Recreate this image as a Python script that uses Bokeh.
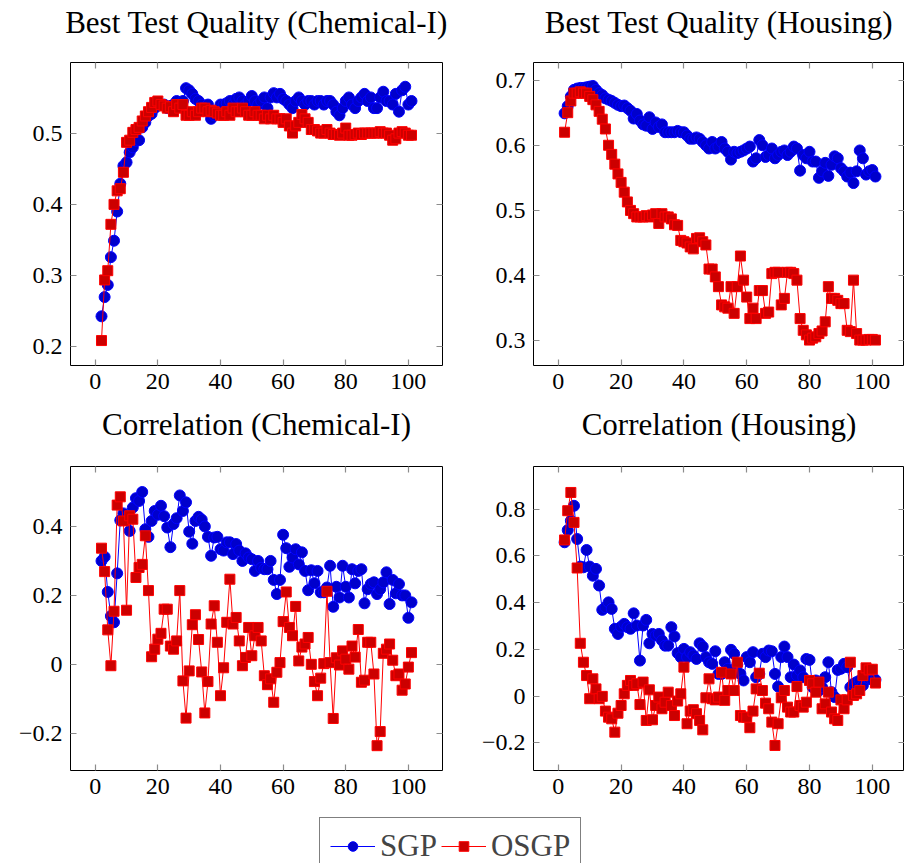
from bokeh.plotting import figure
from bokeh.layouts import column, row
from bokeh.models import (Range1d, FixedTicker, LinearAxis, CustomJSTickFormatter,
                          Legend, LegendItem, Label)
from bokeh.embed import file_html
from bokeh.resources import INLINE

# ---------------- data ----------------
iterations = list(range(2, 102))

sgp_quality_chem = [
    0.243, 0.270, 0.287, 0.326, 0.349, 0.390, 0.429, 0.454, 0.459, 0.473,
    0.480, 0.489, 0.490, 0.508, 0.515, 0.524, 0.527, 0.535, 0.540, 0.540,
    0.540, 0.535, 0.538, 0.540, 0.545, 0.540, 0.545, 0.563, 0.560, 0.555,
    0.548, 0.545, 0.540, 0.535, 0.540, 0.520, 0.525, 0.530, 0.540, 0.540,
    0.542, 0.545, 0.540, 0.548, 0.550, 0.545, 0.540, 0.545, 0.552, 0.545,
    0.540, 0.545, 0.550, 0.535, 0.550, 0.556, 0.550, 0.555, 0.548, 0.545,
    0.540, 0.535, 0.545, 0.550, 0.545, 0.540, 0.545, 0.545, 0.540, 0.545,
    0.545, 0.540, 0.545, 0.545, 0.540, 0.530, 0.525, 0.535, 0.545, 0.550,
    0.540, 0.535, 0.545, 0.550, 0.555, 0.545, 0.550, 0.535, 0.535, 0.550,
    0.558, 0.545, 0.545, 0.540, 0.555, 0.530, 0.560, 0.565, 0.540, 0.545]
osgp_quality_chem = [
    0.209, 0.294, 0.307, 0.372, 0.400, 0.419, 0.422, 0.445, 0.487, 0.490,
    0.501, 0.505, 0.508, 0.517, 0.524, 0.530, 0.536, 0.543, 0.545, 0.540,
    0.538, 0.535, 0.537, 0.530, 0.540, 0.535, 0.540, 0.525, 0.525, 0.530,
    0.525, 0.530, 0.535, 0.535, 0.530, 0.532, 0.530, 0.528, 0.525, 0.525,
    0.530, 0.525, 0.535, 0.530, 0.530, 0.535, 0.530, 0.525, 0.525, 0.530,
    0.525, 0.525, 0.520, 0.525, 0.520, 0.525, 0.520, 0.520, 0.515, 0.520,
    0.510, 0.500, 0.510, 0.515, 0.526, 0.520, 0.515, 0.505, 0.505, 0.503,
    0.500, 0.500, 0.505, 0.500, 0.498, 0.498, 0.497, 0.500, 0.507, 0.497,
    0.497, 0.498, 0.500, 0.498, 0.500, 0.500, 0.500, 0.500, 0.500, 0.502,
    0.500, 0.500, 0.497, 0.490, 0.492, 0.500, 0.502, 0.500, 0.497, 0.497]

sgp_quality_housing = [
    0.649, 0.660, 0.675, 0.685, 0.687, 0.688, 0.688, 0.689, 0.690, 0.691,
    0.685, 0.680, 0.677, 0.672, 0.670, 0.668, 0.665, 0.662, 0.660, 0.661,
    0.657, 0.653, 0.641, 0.648, 0.638, 0.632, 0.630, 0.643, 0.625, 0.635,
    0.628, 0.632, 0.620, 0.620, 0.620, 0.620, 0.622, 0.620, 0.620, 0.615,
    0.610, 0.610, 0.612, 0.610, 0.605, 0.600, 0.595, 0.605, 0.595, 0.598,
    0.605, 0.595, 0.590, 0.578, 0.590, 0.588, 0.590, 0.592, 0.595, 0.598,
    0.575, 0.580, 0.608, 0.600, 0.582, 0.585, 0.595, 0.580, 0.585, 0.590,
    0.592, 0.585, 0.590, 0.598, 0.595, 0.561, 0.585, 0.580, 0.590, 0.575,
    0.575, 0.550, 0.560, 0.573, 0.553, 0.570, 0.583, 0.580, 0.565, 0.560,
    0.552, 0.558, 0.542, 0.560, 0.592, 0.580, 0.555, 0.560, 0.562, 0.552]
osgp_quality_housing = [
    0.620, 0.650, 0.668, 0.680, 0.680, 0.682, 0.680, 0.680, 0.675, 0.670,
    0.662, 0.652, 0.640, 0.625, 0.600, 0.586, 0.571, 0.556, 0.543, 0.528,
    0.513, 0.500, 0.495, 0.490, 0.490, 0.490, 0.492, 0.490, 0.493, 0.495,
    0.480, 0.495, 0.490, 0.490, 0.487, 0.478, 0.477, 0.454, 0.452, 0.450,
    0.444, 0.441, 0.457, 0.458, 0.452, 0.447, 0.410, 0.410, 0.398, 0.383,
    0.355, 0.352, 0.350, 0.383, 0.342, 0.383, 0.430, 0.393, 0.367, 0.334,
    0.350, 0.334, 0.377, 0.377, 0.342, 0.344, 0.403, 0.405, 0.405, 0.355,
    0.365, 0.405, 0.405, 0.403, 0.393, 0.334, 0.316, 0.309, 0.301, 0.304,
    0.306, 0.311, 0.315, 0.329, 0.383, 0.365, 0.365, 0.362, 0.357, 0.357,
    0.316, 0.314, 0.393, 0.311, 0.301, 0.301, 0.301, 0.302, 0.302, 0.301]

sgp_corr_chem = [
    0.300, 0.312, 0.210, 0.140, 0.122, 0.264, 0.418, 0.438, 0.426, 0.387,
    0.455, 0.482, 0.474, 0.500, 0.392, 0.370, 0.416, 0.445, 0.434, 0.460,
    0.430, 0.397, 0.340, 0.407, 0.424, 0.490, 0.445, 0.470, 0.385, 0.350,
    0.416, 0.428, 0.420, 0.400, 0.370, 0.315, 0.368, 0.370, 0.334, 0.330,
    0.354, 0.354, 0.320, 0.349, 0.330, 0.300, 0.322, 0.310, 0.305, 0.271,
    0.300, 0.280, 0.276, 0.276, 0.300, 0.245, 0.204, 0.245, 0.376, 0.337,
    0.283, 0.310, 0.334, 0.290, 0.325, 0.271, 0.215, 0.273, 0.235, 0.271,
    0.209, 0.209, 0.223, 0.286, 0.167, 0.225, 0.194, 0.286, 0.225, 0.194,
    0.276, 0.235, 0.271, 0.276, 0.177, 0.218, 0.233, 0.238, 0.204, 0.218,
    0.238, 0.267, 0.175, 0.245, 0.206, 0.233, 0.200, 0.200, 0.135, 0.180]
osgp_corr_chem = [
    0.337, 0.269, 0.100, -0.004, 0.154, 0.462, 0.486, 0.416, 0.157, 0.431,
    0.421, 0.252, 0.281, 0.290, 0.373, 0.214, 0.022, 0.044, 0.073, 0.090,
    0.160, 0.160, 0.053, 0.044, 0.068, 0.214, -0.048, -0.156, -0.019, 0.115,
    0.144, 0.072, -0.022, -0.141, -0.050, 0.117, 0.170, 0.064, -0.091, -0.010,
    0.122, 0.247, 0.117, 0.136, 0.068, -0.004, 0.020, 0.107, 0.025, 0.083,
    0.107, 0.068, -0.033, -0.059, -0.042, -0.110, -0.023, 0.005, 0.124, 0.210,
    0.107, 0.083, 0.168, 0.010, 0.050, 0.059, 0.078, 0.000, -0.050, -0.091,
    -0.040, 0.002, 0.212, 0.005, -0.157, 0.019, -0.002, 0.039, 0.015, -0.014,
    0.053, 0.021, 0.101, -0.052, -0.046, 0.064, 0.064, -0.028, -0.236, -0.195,
    0.032, 0.044, 0.059, 0.012, -0.033, -0.028, -0.075, -0.057, -0.008, 0.034]

sgp_corr_housing = [
    0.658, 0.710, 0.750, 0.814, 0.672, 0.554, 0.551, 0.625, 0.554, 0.515,
    0.544, 0.473, 0.369, 0.380, 0.401, 0.373, 0.288, 0.266, 0.297, 0.309,
    0.295, 0.288, 0.354, 0.302, 0.152, 0.302, 0.326, 0.226, 0.266, 0.259,
    0.266, 0.238, 0.216, 0.216, 0.295, 0.255, 0.184, 0.167, 0.202, 0.167,
    0.188, 0.174, 0.159, 0.226, 0.212, 0.167, 0.145, 0.138, 0.192, 0.095,
    0.095, 0.145, 0.117, 0.198, 0.181, 0.135, 0.095, 0.067, 0.167, 0.145,
    0.188, 0.081, 0.095, 0.181, 0.167, 0.195, 0.192, 0.095, 0.041, 0.167,
    0.212, 0.167, 0.081, 0.135, 0.088, 0.110, 0.081, 0.159, 0.155, 0.038,
    0.067, 0.024, 0.038, 0.081, 0.145, 0.017, -0.004, 0.112, 0.117, 0.138,
    0.124, 0.038, 0.053, 0.060, 0.067, 0.046, 0.081, 0.074, 0.070, 0.070]
osgp_corr_housing = [
    0.668, 0.793, 0.871, 0.743, 0.548, 0.226, 0.145, 0.088, -0.011, 0.074,
    0.031, -0.011, -0.001, -0.064, -0.090, -0.097, -0.154, -0.073, -0.040, 0.010,
    0.046, 0.067, 0.046, 0.053, -0.036, 0.060, -0.104, 0.027, -0.101, -0.040,
    -0.004, -0.054, -0.026, 0.017, -0.040, -0.083, -0.021, 0.010, 0.124, -0.118,
    -0.064, -0.058, -0.075, -0.104, -0.144, -0.007, 0.074, -0.011, -0.016, -0.004,
    0.102, -0.018, 0.024, 0.095, 0.024, 0.145, -0.083, -0.090, -0.090, -0.135,
    -0.064, 0.031, 0.098, 0.024, -0.030, -0.054, -0.111, -0.211, -0.118, -0.007,
    0.024, -0.047, -0.068, -0.068, 0.041, -0.040, -0.047, -0.026, 0.067, 0.053,
    0.017, 0.060, -0.054, -0.033, 0.017, -0.068, -0.097, -0.104, -0.016, -0.054,
    -0.016, 0.145, 0.003, 0.010, 0.024, 0.088, 0.121, 0.112, 0.115, 0.056]

x_ticks = [0, 20, 40, 60, 80, 100]
series_names = ["SGP", "OSGP"]
titles = ["Best Test Quality (Chemical-I)", "Best Test Quality (Housing)",
          "Correlation (Chemical-I)", "Correlation (Housing)"]

# ---------------- style ----------------
FONT = "Liberation Serif"
TITLE_SIZE = "31px"
TICK_SIZE = "24px"
TICK_COLOR = "#8c8c8c"
BLUE_LINE, BLUE_FILL = "#0000ff", "#0000cc"
RED_LINE, RED_FILL = "#ff0000", "#cc0000"

y_fmt = CustomJSTickFormatter(code="""
    if (Math.abs(tick) < 1e-9) return "0";
    const s = Math.abs(tick).toFixed(1);
    return tick < 0 ? "\u2212" + s : s;
""")
x_fmt = CustomJSTickFormatter(code="return tick.toFixed(0);")


def style_axis(ax, ticks, fmt, show_labels=True):
    ax.ticker = FixedTicker(ticks=ticks)
    ax.minor_tick_line_color = None
    ax.axis_line_color = None
    ax.major_tick_in = 6
    ax.major_tick_out = 0
    ax.major_tick_line_color = TICK_COLOR
    ax.major_tick_line_width = 1.2
    if show_labels:
        ax.formatter = fmt
        ax.major_label_text_font = FONT
        ax.major_label_text_font_size = TICK_SIZE
        ax.major_label_text_color = "black"
        ax.major_label_standoff = 8
    else:
        ax.major_label_text_font_size = "0px"
        ax.major_label_standoff = 0
        ax.major_label_text_alpha = 0


def title_strip(text, width, height, center_x):
    t = figure(width=width, height=height, x_range=Range1d(0, 1), y_range=Range1d(0, 1),
               output_backend="svg", toolbar_location=None, min_border=0,
               x_axis_location=None, y_axis_location=None)
    t.outline_line_color = None
    t.grid.visible = False
    t.add_layout(Label(x=center_x, y=height / 2, x_units="screen", y_units="screen",
                       text=text, text_align="center", text_baseline="middle",
                       text_font=FONT, text_font_size=TITLE_SIZE, text_color="black"))
    return t


def panel(sgp, osgp, xr, yr, yticks, fw, fh, mbl, mbr, mbt, mbb):
    p = figure(frame_width=fw, frame_height=fh,
               x_range=Range1d(*xr), y_range=Range1d(*yr),
               output_backend="svg", toolbar_location=None,
               min_border_left=mbl, min_border_right=mbr,
               min_border_top=mbt, min_border_bottom=mbb,
               background_fill_color="white", border_fill_color="white")
    p.outline_line_color = "black"
    p.outline_line_width = 1
    p.grid.visible = False
    style_axis(p.xaxis[0], x_ticks, x_fmt)
    style_axis(p.yaxis[0], yticks, y_fmt)
    top = LinearAxis()
    style_axis(top, x_ticks, x_fmt, show_labels=False)
    p.add_layout(top, "above")
    right = LinearAxis()
    style_axis(right, yticks, y_fmt, show_labels=False)
    p.add_layout(right, "right")

    p.line(iterations, sgp, line_color=BLUE_LINE, line_width=1)
    p.scatter(iterations, sgp, marker="circle", size=11,
              fill_color=BLUE_FILL, line_color=BLUE_LINE, line_width=1)
    p.line(iterations, osgp, line_color=RED_LINE, line_width=1)
    p.scatter(iterations, osgp, marker="square", size=10,
              fill_color=RED_FILL, line_color=RED_LINE, line_width=1)
    return p


XR_L = (-7.9, 110.9)
XR_R = (-7.9, 110.25)

tl = panel(sgp_quality_chem, osgp_quality_chem, XR_L, (0.174, 0.599),
           [0.2, 0.3, 0.4, 0.5], 372, 303, 70, 10, 18, 35)
tr = panel(sgp_quality_housing, osgp_quality_housing, XR_R, (0.262, 0.727),
           [0.3, 0.4, 0.5, 0.6, 0.7], 371, 303, 81, 0, 18, 35)
bl = panel(sgp_corr_chem, osgp_corr_chem, XR_L, (-0.308, 0.574),
           [-0.2, 0.0, 0.2, 0.4], 372, 304, 70, 10, 18, 35)
br = panel(sgp_corr_housing, osgp_corr_housing, XR_R, (-0.318, 0.982),
           [-0.2, 0.0, 0.2, 0.4, 0.6, 0.8], 371, 304, 81, 0, 18, 35)

t_tl = title_strip(titles[0], 452, 44, 70 + 372 / 2)
t_tr = title_strip(titles[1], 452, 44, 81 + 371 / 2)
t_bl = title_strip(titles[2], 452, 48, 70 + 372 / 2)
t_br = title_strip(titles[3], 452, 48, 81 + 371 / 2)

# ---------------- legend strip ----------------
lg = figure(width=904, height=58, x_range=Range1d(-1000, -999), y_range=Range1d(-1000, -999),
            output_backend="svg", toolbar_location=None, min_border=0,
            x_axis_location=None, y_axis_location=None)
lg.outline_line_color = None
lg.grid.visible = False
l1 = lg.line(iterations, sgp_corr_chem, line_color=BLUE_LINE, line_width=1)
s1 = lg.scatter(iterations, sgp_corr_chem, marker="circle", size=11,
                fill_color=BLUE_FILL, line_color=BLUE_LINE)
l2 = lg.line(iterations, osgp_corr_chem, line_color=RED_LINE, line_width=1)
s2 = lg.scatter(iterations, osgp_corr_chem, marker="square", size=10,
                fill_color=RED_FILL, line_color=RED_LINE)
legend = Legend(items=[LegendItem(label=series_names[0], renderers=[l1, s1]),
                       LegendItem(label=series_names[1], renderers=[l2, s2])],
                orientation="horizontal", location=(319, -12),
                label_text_font=FONT, label_text_font_size="31px",
                border_line_color="black", border_line_width=1,
                glyph_width=45, glyph_height=24, label_standoff=5,
                spacing=4, padding=10, margin=0)
lg.add_layout(legend)

layout = column(row(t_tl, t_tr), row(tl, tr), row(t_bl, t_br), row(bl, br), lg)

html = file_html(layout, INLINE)
open("out.html", "w").write(html)
